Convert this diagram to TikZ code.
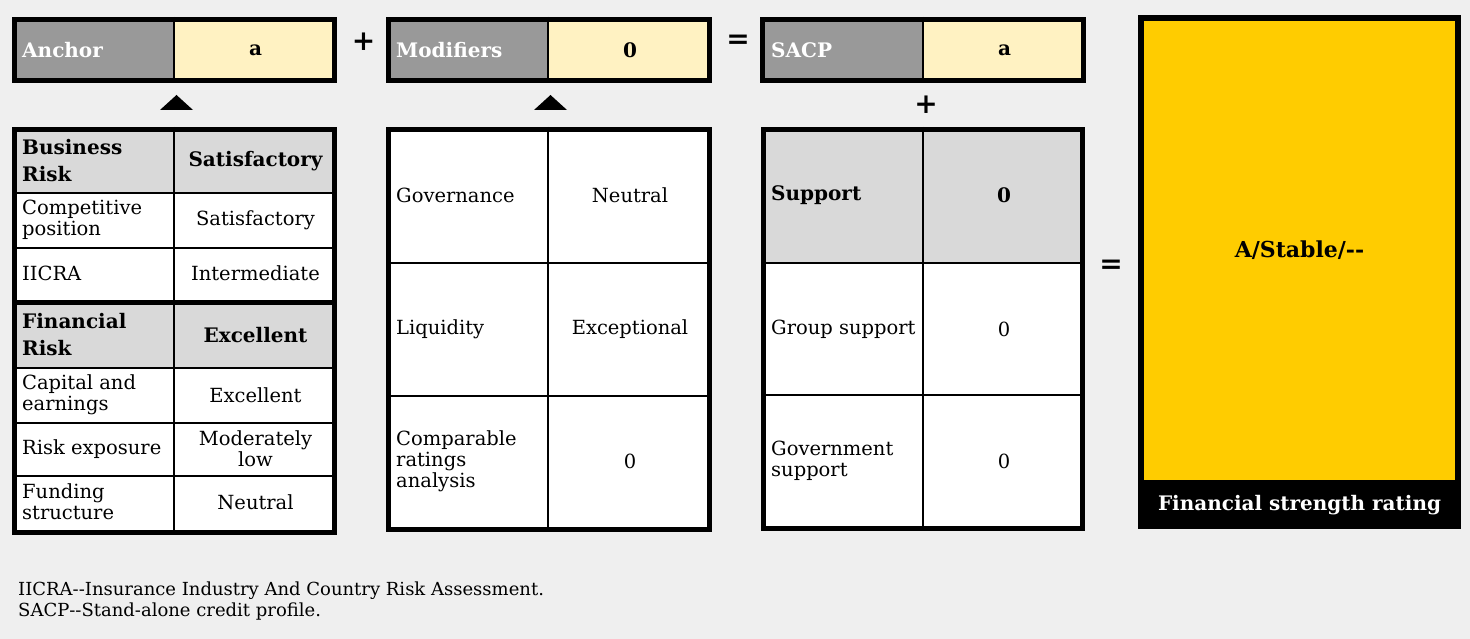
\documentclass[tikz,border=0pt]{standalone}
\usepackage{fontspec}
\setmainfont{DejaVu Serif}
\definecolor{bg}{HTML}{EFEFEF}
\definecolor{hdrdark}{HTML}{999999}
\definecolor{hdrlight}{HTML}{D9D9D9}
\definecolor{paleyel}{HTML}{FFF2C2}
\definecolor{gold}{HTML}{FFCC00}
\newcommand\tbl{\fontsize{19.5}{21}\selectfont}
\newcommand\tblb{\bfseries\fontsize{20}{27}\selectfont}
\newcommand\hy{\hbox{-}}
\tikzset{
  outerline/.style={line width=5pt, draw=black},
  gridline/.style={line width=2.5pt, draw=black},
  lbl/.style={anchor=west, align=left, inner sep=0pt, font=\tbl},
  lblb/.style={anchor=west, align=left, inner sep=0pt, font=\tblb},
  val/.style={anchor=center, align=center, inner sep=0pt, font=\tbl},
  valb/.style={anchor=center, align=center, inner sep=0pt, font=\tblb},
  toplbl/.style={anchor=west, inner sep=0pt, text=white, font=\bfseries\fontsize{20}{22}\selectfont},
  topval/.style={anchor=center, inner sep=0pt, font=\bfseries\fontsize{20}{22}\selectfont},
  op/.style={anchor=center, inner sep=0pt, font=\bfseries\fontsize{28}{30}\selectfont},
  arrowtri/.style={fill=black},
}
\begin{document}
\begin{tikzpicture}[x=1pt,y=-1pt]
\useasboundingbox (0,0) rectangle (1470,639);
\fill[bg] (0,0) rectangle (1470,639);

% ---------- top boxes ----------
% Anchor
\fill[hdrdark] (12,17) rectangle (174,83);
\fill[paleyel] (174,17) rectangle (337,83);
\draw[line width=2pt] (174,17) -- (174,83);
\draw[outerline] (14.5,19.5) rectangle (334.5,80.5);
\node[toplbl] (anchorlbl) at (22,50) {Anchor};
\node[topval] (anchorval) at (255.5,50) {a};
% Modifiers
\fill[hdrdark] (386,17) rectangle (548,83);
\fill[paleyel] (548,17) rectangle (712,83);
\draw[line width=2pt] (548,17) -- (548,83);
\draw[outerline] (388.5,19.5) rectangle (709.5,80.5);
\node[toplbl] (modlbl) at (396,50) {Modifiers};
\node[topval] (modval) at (630,50) {0};
% SACP
\fill[hdrdark] (760,17) rectangle (923,83);
\fill[paleyel] (923,17) rectangle (1086,83);
\draw[line width=2pt] (923,17) -- (923,83);
\draw[outerline] (762.5,19.5) rectangle (1083.5,80.5);
\node[toplbl] (sacplbl) at (771,50) {SACP};
\node[topval] (sacpval) at (1004.5,50) {a};

% operators
\node[op] (plus1) at (363.5,42) {+};
\node[op] (eq1) at (738,42) {=};
\node[op] (plus2) at (926,105) {+};
\node[op] (eq2) at (1111,267) {=};

% triangles
\fill[arrowtri] (160,110) -- (176.5,95) -- (193,110) -- cycle;
\fill[arrowtri] (534,110) -- (550.5,95) -- (567,110) -- cycle;

% ---------- left table ----------
\fill[white] (12,127) rectangle (337,535);
\fill[hdrlight] (12,127) rectangle (337,193);
\fill[hdrlight] (12,302) rectangle (337,368);
\foreach \yy in {193,248,368,423,476} \draw[gridline] (12,\yy) -- (337,\yy);
\draw[outerline] (12,302) -- (337,302);
\draw[gridline] (174,127) -- (174,535);
\draw[outerline] (14.5,129.5) rectangle (334.5,532.5);
\node[lblb] (br) at (22,161) {Business\\Risk};
\node[valb] (brv) at (255.5,161) {Satisfactory};
\node[lbl] (cp) at (22,220) {Competitive\\position};
\node[val] (cpv) at (255.5,220) {Satisfactory};
\node[lbl] (ii) at (22,273) {IICRA};
\node[val] (iiv) at (255.5,273) {Intermediate};
\node[lblb] (fr) at (22,335) {Financial\\Risk};
\node[valb] (frv) at (255.5,335) {Excellent};
\node[lbl] (ce) at (22,395) {Capital and\\earnings};
\node[val] (cev) at (255.5,395) {Excellent};
\node[lbl] (re) at (22,449) {Risk exposure};
\node[val] (rev) at (255.5,449) {Moderately\\low};
\node[lbl] (fs) at (22,502) {Funding\\structure};
\node[val] (fsv) at (255.5,502) {Neutral};

% ---------- middle table ----------
\fill[white] (386,127) rectangle (712,532);
\foreach \yy in {263,396} \draw[gridline] (386,\yy) -- (712,\yy);
\draw[gridline] (548,127) -- (548,532);
\draw[outerline] (388.5,129.5) rectangle (709.5,529.5);
\node[lbl] (gov) at (396,195) {Governance};
\node[val] (govv) at (630,195) {Neutral};
\node[lbl] (liq) at (396,329) {Liquidity};
\node[val] (liqv) at (630,329) {Exceptional};
\node[lbl] (cra) at (396,461) {Comparable\\ratings\\analysis};
\node[val] (crav) at (630,461) {0};

% ---------- right table ----------
\fill[white] (761,127) rectangle (1085,531);
\fill[hdrlight] (761,127) rectangle (1085,263);
\foreach \yy in {263,395} \draw[gridline] (761,\yy) -- (1085,\yy);
\draw[gridline] (923,127) -- (923,531);
\draw[outerline] (763.5,129.5) rectangle (1082.5,528.5);
\node[lblb] (sup) at (771,195) {Support};
\node[valb] (supv) at (1004,195) {0};
\node[lbl] (grp) at (771,329) {Group support};
\node[val] (grpv) at (1004,329) {0};
\node[lbl] (gvs) at (771,461) {Government\\support};
\node[val] (gvsv) at (1004,461) {0};

% ---------- rating box ----------
\fill[black] (1138,15) rectangle (1461,529);
\fill[gold] (1144,21) rectangle (1455,480);
\node[valb, font=\bfseries\fontsize{22}{24}\selectfont] (rating) at (1299.5,250) {A/Stable/\hy\hy};
\node[anchor=center, inner sep=0pt, text=white, font=\bfseries\fontsize{20}{22}\selectfont] (fsr) at (1299.5,505) {Financial strength rating};

% ---------- footer ----------
\node[anchor=base west, inner sep=0pt, font=\fontsize{18}{21}\selectfont] (n1) at (18,595) {IICRA\hy\hy Insurance Industry And Country Risk Assessment.};
\node[anchor=base west, inner sep=0pt, font=\fontsize{18}{21}\selectfont] (n2) at (18,616) {SACP\hy\hy Stand-alone credit profile.};
\end{tikzpicture}
\end{document}
